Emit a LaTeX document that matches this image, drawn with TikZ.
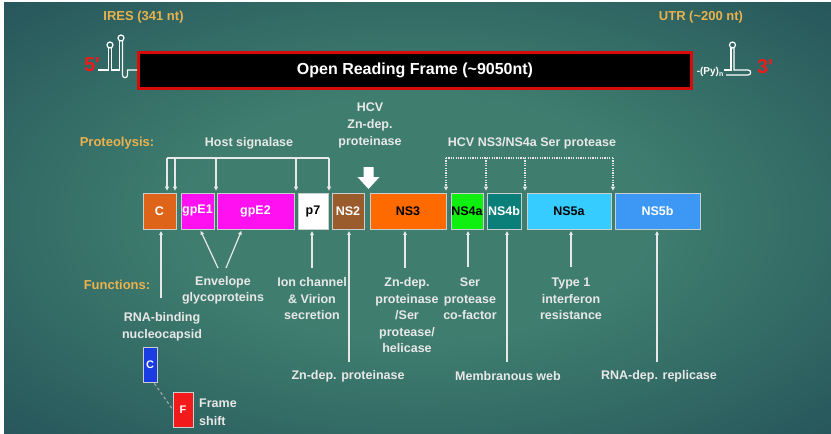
\documentclass[tikz,border=0pt]{standalone}
\usepackage{fontspec}
\setmainfont{Liberation Sans}
\usetikzlibrary{arrows.meta}

\definecolor{bgin}{HTML}{3F7E6F}
\definecolor{bgout}{HTML}{163C4E}
\definecolor{txt}{HTML}{E8E8E8}
\definecolor{gold}{HTML}{E9B24E}
\definecolor{primered}{HTML}{EA1C1C}
\definecolor{orfred}{HTML}{D80A0A}
\definecolor{edge}{HTML}{C9CFCF}
\definecolor{cOrange}{HTML}{DD6419}
\definecolor{cMagenta}{HTML}{FF10F0}
\definecolor{cBrown}{HTML}{9A5C2C}
\definecolor{cNSthree}{HTML}{FF6A00}
\definecolor{cGreen}{HTML}{10F010}
\definecolor{cTeal}{HTML}{0A7E78}
\definecolor{cCyan}{HTML}{36CCFF}
\definecolor{cBlue}{HTML}{3C98F4}
\definecolor{cDeepBlue}{HTML}{1A3CE0}
\definecolor{cRed}{HTML}{F21A1A}

\pgfdeclareradialshading{bgglow}{\pgfpoint{0bp}{0bp}}{color(0bp)=(bgin); color(14bp)=(bgin); color(50bp)=(bgout)}

\begin{document}
\begin{tikzpicture}[x=1pt,y=-1pt,
  lab/.style={text=txt, font=\bfseries\fontsize{12.5}{16.5}\selectfont, align=center, inner sep=0pt},
  hdr/.style={text=gold, font=\bfseries\fontsize{13}{16}\selectfont, inner sep=0pt},
  prime/.style={text=primered, font=\bfseries\fontsize{20}{20}\selectfont, inner sep=0pt},
  gene/.style={draw=edge, line width=0.8pt, minimum height=36pt, inner sep=0pt,
    font=\bfseries\fontsize{12.5}{14}\selectfont},
  rna/.style={draw=white, line width=1.2pt},
  fn/.style={draw=txt, line width=1.2pt, -{Triangle[length=4pt,width=3.5pt]}, shorten >=1.5pt},
  cut/.style={draw=txt, line width=1.1pt, -{Triangle[length=4pt,width=4pt]}, shorten >=2pt},
  sercut/.style={draw=txt, line width=1.1pt, dash pattern=on 1.2pt off 1.2pt, -{Triangle[length=4pt,width=4pt]}, shorten >=2pt}
]
\useasboundingbox (0,0) rectangle (831,434);
\fill[white] (0,0) rectangle (831,434);
\shade[shading=bgglow] (4,2) rectangle (831,434);

% ---------------- genome overview ----------------
\node[hdr] (ires) at (143.5,17) {IRES (341 nt)};
\node[hdr] (utr) at (701,17) {UTR (\textasciitilde200 nt)};
\node[prime] (p5) at (92,65) {5\textquotesingle};
\node[prime] (p3) at (765,67) {3\textquotesingle};
\node[draw=orfred, fill=black, line width=3pt, minimum width=553pt, minimum height=36pt,
      text=white, font=\bfseries\fontsize{16}{18}\selectfont] (orf) at (415,70.5)
      {Open Reading Frame (\textasciitilde9050nt)};

% 5' IRES stem-loops
\draw[rna] (98,70) -- (108.5,70) -- (108.5,48);
\draw[rna] (110,45) circle (3);
\draw[rna] (111.5,48) -- (111.5,70) -- (119.5,70) -- (119.5,41);
\draw[rna] (121,38) circle (3);
\draw[rna] (122.5,41) -- (122.5,75) .. controls (122.5,78.5) and (127.5,78.5) .. (127.5,75) -- (127.5,70) -- (orf.west |- 0,70);

% 3' UTR
\node[text=white, font=\bfseries\fontsize{10}{12}\selectfont, inner sep=0pt, anchor=east] (py) at (724,72) {-(Py)\textsubscript{n}};
\draw[rna] (py.east |- 0,70) -- (731,70) -- (731,48);
\draw[rna] (732.5,45) circle (3);
\draw[rna] (734,48) -- (734,70) -- (748,70) .. controls (751.5,70) and (751.5,75) .. (748,75) -- (726,75);

% ---------------- proteolysis ----------------
\node[hdr] (prot) at (117,143) {Proteolysis:};
\node[lab] (hsig) at (249,143) {Host signalase};
\node[lab, font=\bfseries\fontsize{12.5}{17}\selectfont] (zndep) at (370,125.5) {HCV\\Zn-dep.\\proteinase};
\node[lab] (serp) at (532,143) {HCV NS3/NS4a Ser protease};

% polyprotein
\node[gene, fill=cOrange, text=white, minimum width=33pt] (c) at (159.5,211) {C};
\node[gene, fill=cMagenta, text=white, minimum width=33pt] (e1) at (197.5,211) {gpE1};
\node[gene, fill=cMagenta, text=white, minimum width=77pt] (e2) at (255.5,211) {gpE2};
\node[gene, fill=white, text=black, minimum width=30pt] (p7) at (313,211) {p7};
\node[gene, fill=cBrown, text=white, minimum width=32pt] (ns2) at (348,211) {NS2};
\node[gene, fill=cNSthree, text=black, minimum width=76pt] (ns3) at (408,211) {NS3};
\node[gene, fill=cGreen, text=black, minimum width=32pt] (ns4a) at (467,211) {NS4a};
\node[gene, fill=cTeal, text=white, minimum width=34pt] (ns4b) at (504,211) {NS4b};
\node[gene, fill=cCyan, text=black, minimum width=84pt] (ns5a) at (569,211) {NS5a};
\node[gene, fill=cBlue, text=white, minimum width=85pt] (ns5b) at (657.5,211) {NS5b};

% host signalase cleavage sites
\coordinate (h1) at (167,158);
\coordinate (h2) at (175,158);
\coordinate (h3) at (216,158);
\coordinate (h4) at (296,158);
\coordinate (h5) at (329,158);
\draw[draw=txt, line width=1.1pt] (h1) -- (h5);
\foreach \h in {h1,h2,h3,h4,h5} \draw[cut] (\h) -- (\h |- c.north);

% NS2 autoprotease
\coordinate (zn) at (368.5,167);
\fill[white] (363.5,167) -- (373.5,167) -- (373.5,177) -- (379.5,177) -- (368.5,189)
  -- (357.5,177) -- (363.5,177) -- cycle;

% NS3/NS4a cleavage sites
\coordinate (s1) at (446,158);
\coordinate (s2) at (486,158);
\coordinate (s3) at (525,158);
\coordinate (s4) at (613,158);
\draw[draw=txt, line width=1.1pt, dash pattern=on 1.2pt off 1.2pt] (s1) -- (s4);
\foreach \s in {s1,s2,s3,s4} \draw[sercut] (\s) -- (\s |- c.north);

% ---------------- functions ----------------
\node[hdr] (func) at (117,285) {Functions:};
\node[lab] (fc) at (162,327) {RNA-binding\\nucleocapsid};
\node[lab] (fenv) at (223,290.5) {Envelope\\glycoproteins};
\node[lab] (fp7) at (312,299) {Ion channel\\\& Virion\\secretion};
\node[lab] (fns3) at (407,315.5) {Zn-dep.\\proteinase\\/Ser\\protease/\\helicase};
\node[lab] (fns2) at (348,376) {Zn-dep. proteinase};
\node[lab] (fns4a) at (470,299) {Ser\\protease\\co-factor};
\node[lab] (fns5a) at (571,299) {Type 1\\interferon\\resistance};
\node[lab] (fns4b) at (508,376) {Membranous web};
\node[lab] (fns5b) at (659,376) {RNA-dep. replicase};

\coordinate (ac) at (161,298);
\coordinate (ae1) at (218,268);
\coordinate (ae2) at (226,268);
\coordinate (ap7) at (312,268);
\coordinate (ans2) at (349,362);
\coordinate (ans3) at (405,268);
\coordinate (ans4a) at (468,267);
\coordinate (ans4b) at (507,362);
\coordinate (ans5a) at (571,267);
\coordinate (ans5b) at (657,362);

\draw[fn] (ac) -- (ac |- c.south);
\draw[fn] (ae1) -- (e1.south -| 200,0);
\draw[fn] (ae2) -- (e2.south -| 242,0);
\draw[fn] (ap7) -- (ap7 |- p7.south);
\draw[fn] (ans2) -- (ans2 |- ns2.south);
\draw[fn] (ans3) -- (ans3 |- ns3.south);
\draw[fn] (ans4a) -- (ans4a |- ns4a.south);
\draw[fn] (ans4b) -- (ans4b |- ns4b.south);
\draw[fn] (ans5a) -- (ans5a |- ns5a.south);
\draw[fn] (ans5b) -- (ans5b |- ns5b.south);

% core protein and frameshift product
\node[draw=edge, line width=0.6pt, fill=cDeepBlue, text=white, minimum width=14pt, minimum height=35pt,
      inner sep=0pt, font=\bfseries\fontsize{11}{12}\selectfont] (cs) at (150,364.5) {C};
\node[draw=edge, line width=0.6pt, fill=cRed, text=white, minimum width=20pt, minimum height=35pt,
      inner sep=0pt, font=\bfseries\fontsize{11}{12}\selectfont] (fs) at (183,409.5) {F};
\draw[draw=gray!70, line width=1.1pt, dash pattern=on 3pt off 2.5pt] (cs.south east) ++(-3,1) -- (fs.west);
\node[lab, align=left, anchor=west, font=\bfseries\fontsize{12.5}{18}\selectfont] (fsl) at (199,412) {Frame\\shift};
\end{tikzpicture}
\end{document}
